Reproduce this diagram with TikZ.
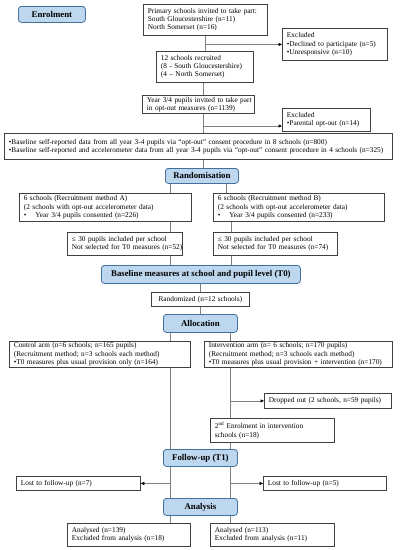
\documentclass[tikz,border=0pt]{standalone}
\usepackage{fontspec}
\setmainfont{Liberation Serif}
\usetikzlibrary{arrows.meta}
\pgfdeclarelayer{background}
\pgfsetlayers{background,main}
\definecolor{boxc}{HTML}{404040}
\definecolor{hdf}{HTML}{BDD7EE}
\definecolor{hdb}{HTML}{41719C}
\definecolor{lnc}{HTML}{808080}
\newcommand\fs{\fontsize{7.3}{8.2}\selectfont}
\newcommand\hfs{\fontsize{8.8}{10}\selectfont\bfseries}
\newcommand\ml[1]{\mbox{#1}}
\tikzset{
  bx/.style={draw=boxc, line width=0.8pt, fill=white, anchor=north west, inner xsep=4.5pt, inner ysep=1pt, align=left, font=\fs},
  hd/.style={draw=hdb, fill=hdf, line width=0.8pt, rounded corners=3pt, anchor=north west, inner sep=0pt, align=center, font=\hfs},
  ln/.style={draw=lnc, line width=0.6pt},
  arr/.style={ln, -{Triangle[color=black, length=3.5pt, width=3pt]}}
}
\begin{document}
\begin{tikzpicture}[x=1pt, y=-1pt]
\useasboundingbox (0,0) rectangle (404,550);
% headers
\node[hd, minimum width=67pt, minimum height=16pt] (enrol) at (18,6) {Enrolment};
\node[hd, minimum width=73pt, minimum height=15pt] (rand) at (165,168) {Randomisation};
\node[hd, minimum width=199pt, minimum height=18pt] (t0) at (101,265) {Baseline measures at school and pupil level (T0)};
\node[hd, minimum width=74pt, minimum height=18pt] (alloc) at (163,314) {Allocation};
\node[hd, minimum width=74pt, minimum height=17pt] (follow) at (163,449) {Follow-up (T1)};
\node[hd, minimum width=74pt, minimum height=17pt] (anal) at (163,498) {Analysis};
% boxes
\node[bx, text width=115pt, minimum height=31pt] (b1) at (143,4) {\ml{Primary schools invited to take part:}\\\ml{South Gloucestershire (n=11)}\\\ml{North Somerset (n=16)}};
\node[bx, text width=96pt, minimum height=32pt] (ex1) at (282,28) {\ml{Excluded}\\\ml{•Declined to participate (n=5)}\\\ml{•Unresponsive (n=10)}};
\node[bx, text width=88pt, minimum height=31pt] (b2) at (156,51) {\ml{12 schools recruited}\\\ml{(8 - South Gloucestershire)}\\\ml{(4 – North Somerset)}};
\node[bx, text width=103pt, minimum height=18pt] (b3) at (142,95) {\ml{Year 3/4 pupils invited to take part}\\\ml{in opt-out measures (n=1139)}};
\node[bx, text width=79pt, minimum height=23pt] (ex2) at (282,108) {\ml{Excluded}\\\ml{•Parental opt-out (n=14)}};
\node[bx, text width=379pt, minimum height=26pt] (wide) at (4,133) {\ml{•Baseline self-reported data from all year 3-4 pupils via “opt-out” consent procedure in 8 schools (n=800)}\\\ml{•Baseline self-reported and accelerometer data from all year 3-4 pupils via “opt-out” consent procedure in 4 schools (n=325)}};
\node[bx, text width=163pt, minimum height=28pt] (ma) at (19,193) {\ml{6 schools (Recruitment method A)}\\\ml{(2 schools with opt-out accelerometer data)}\\\ml{•\hspace{9pt}Year 3/4 pupils consented (n=226)}};
\node[bx, text width=162pt, minimum height=28pt] (mb) at (213,193) {\ml{6 schools (Recruitment method B)}\\\ml{(2 schools with opt-out accelerometer data)}\\\ml{•\hspace{9pt}Year 3/4 pupils consented (n=233)}};
\node[bx, text width=106pt, minimum height=23pt] (a2) at (67,232) {\ml{≤ 30 pupils included per school}\\\ml{Not selected for T0 measures (n=52)}};
\node[bx, text width=115pt, minimum height=23pt] (b2b) at (213,232) {\ml{≤ 30 pupils included per school}\\\ml{Not selected for T0 measures (n=74)}};
\node[bx, text width=89pt, minimum height=14pt, align=center] (rz) at (151,292) {Randomized (n=12 schools)};
\node[bx, text width=172pt, minimum height=26pt] (ctrl) at (9,341) {\ml{Control arm (n=6 schools; n=165 pupils)}\\\ml{(Recruitment method; n=3 schools each method)}\\\ml{•T0 measures plus usual provision only (n=164)}};
\node[bx, text width=179pt, minimum height=26pt] (intv) at (204,341) {\ml{Intervention arm (n= 6 schools; n=170 pupils)}\\\ml{(Recruitment method; n=3 schools each method)}\\\ml{•T0 measures plus usual provision + intervention (n=170)}};
\node[bx, text width=118pt, minimum height=15pt] (drop) at (264,393) {\ml{Dropped out (2 schools, n=59 pupils)}};
\node[bx, text width=115pt, minimum height=24pt] (enr2) at (210,418) {\ml{2\textsuperscript{nd} Enrolment in intervention}\\\ml{schools (n=18)}};
\node[bx, text width=115pt, minimum height=14pt] (lostl) at (16,476) {\ml{Lost to follow-up (n=7)}};
\node[bx, text width=114pt, minimum height=14pt] (lostr) at (263,476) {\ml{Lost to follow-up (n=5)}};
\node[bx, text width=114pt, minimum height=23pt] (anl) at (67,523) {\ml{Analysed (n=139)}\\\ml{Excluded from analysis (n=18)}};
\node[bx, text width=115pt, minimum height=23pt] (anr) at (210,523) {\ml{Analysed (n=113)}\\\ml{Excluded from analysis (n=11)}};
% connector x positions
\coordinate (v0) at (205,0);
\coordinate (v1) at (203,0);
\coordinate (vA) at (170,0);
\coordinate (vB) at (226,0);
\coordinate (vB2) at (231,0);
\coordinate (vC) at (200,0);
\coordinate (vI) at (230,0);
\coordinate (e2s) at (203,126);
\begin{pgfonlayer}{background}
\draw[ln] (b1.south -| v0) -- (b2.north -| v0);
\draw[arr] (ex1.west -| v0) -- (ex1.west);
\draw[ln] (b2.south -| v1) -- (b3.north -| v1);
\draw[ln] (b3.south -| v1) -- (wide.north -| v1);
\draw[arr] (e2s) -- (e2s -| ex2.west);
\draw[ln] (wide.south -| v1) -- (rand.north -| v1);
\draw[ln] (rand.south -| vA) -- (ma.north -| vA);
\draw[ln] (rand.south -| vB) -- (mb.north -| vB);
\draw[ln] (ma.south -| vA) -- (a2.north -| vA);
\draw[ln] (a2.south -| vA) -- (t0.north -| vA);
\draw[ln] (mb.south -| vB2) -- (b2b.north -| vB2);
\draw[ln] (b2b.south -| vB2) -- (t0.north -| vB2);
\draw[ln] (t0.south -| vC) -- (rz.north -| vC);
\draw[ln] (rz.south -| vC) -- (alloc.north -| vC);
\draw[ln] (alloc.south -| vA) -- (ctrl.north -| vA);
\draw[ln] (alloc.south -| vI) -- (intv.north -| vI);
\draw[ln] (ctrl.south -| vA) -- (anl.north -| vA);
\draw[ln] (intv.south -| vI) -- (anr.north -| vI);
\draw[arr] (drop.west -| vI) -- (drop.west);
\draw[arr] (lostl.east -| vA) -- (lostl.east);
\draw[arr] (lostr.west -| vI) -- (lostr.west);
\end{pgfonlayer}
\end{tikzpicture}
\end{document}
